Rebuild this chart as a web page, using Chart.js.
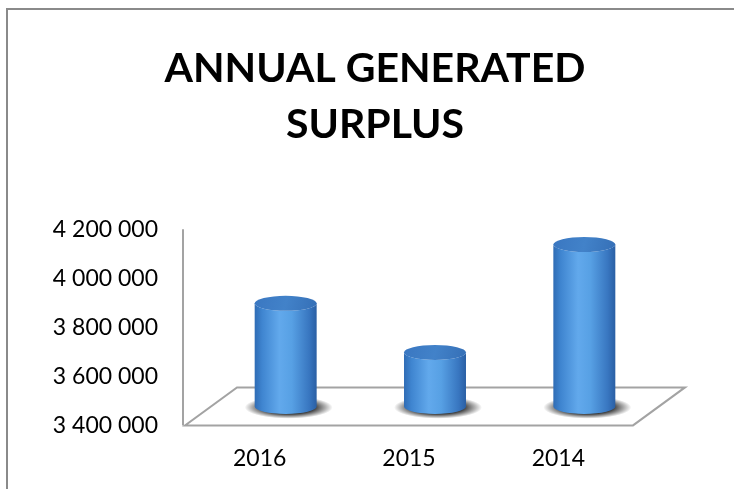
<!DOCTYPE html>
<html>
<head>
<meta charset="utf-8">
<script src="https://cdn.jsdelivr.net/npm/chart.js@4/dist/chart.umd.min.js"></script>
<style>
  html, body { margin: 0; padding: 0; background: #fff; width: 734px; height: 489px; overflow: hidden; }
  #frame { position: absolute; left: 6px; top: 8px; width: 760px; height: 500px;
           border-left: 2px solid #8a8a8a; border-top: 2px solid #8a8a8a; }
  #wrap { position: absolute; left: 0; top: 0; width: 734px; height: 479px; }
</style>
</head>
<body>
<div id="frame"><div id="wrap"><canvas id="c"></canvas></div></div>
<script>
// Annual generated surplus, by year
const years = ['2016', '2015', '2014'];
const surplus = [3820000, 3620000, 4060000];
const axisMin = 3400000;
const axisMax = 4200000;
const axisStep = 200000;

const FONT = 'Lato, "Open Sans", sans-serif';
// depth of the floor slab (back edge offset from the front edge)
const DEPTH_X = 52, DEPTH_Y = -38;

function spaced(v) {
  return String(v).replace(/\B(?=(\d{3})+(?!\d))/g, ' ');
}

function drawCylinder(ctx, cx, topY, baseY, rx, ry) {
  // soft dark shadow under the base
  ctx.save();
  const srx = rx * 1.42, sry = ry * 1.5;
  ctx.translate(cx + 3, baseY + 1);
  ctx.scale(1, sry / srx);
  const sg = ctx.createRadialGradient(0, 0, 0, 0, 0, srx);
  sg.addColorStop(0, 'rgba(0,0,0,0.9)');
  sg.addColorStop(0.6, 'rgba(0,0,0,0.75)');
  sg.addColorStop(1, 'rgba(0,0,0,0)');
  ctx.fillStyle = sg;
  ctx.beginPath();
  ctx.arc(0, 0, srx, 0, Math.PI * 2);
  ctx.fill();
  ctx.restore();

  // body
  const g = ctx.createLinearGradient(cx - rx, 0, cx + rx, 0);
  g.addColorStop(0, '#2f6cb5');
  g.addColorStop(0.12, '#3f85d0');
  g.addColorStop(0.4, '#62a9ec');
  g.addColorStop(0.6, '#57a0e4');
  g.addColorStop(0.88, '#3876c0');
  g.addColorStop(1, '#2a5fa4');
  ctx.fillStyle = g;
  ctx.beginPath();
  ctx.moveTo(cx - rx, topY);
  ctx.lineTo(cx - rx, baseY);
  ctx.ellipse(cx, baseY, rx, ry, 0, Math.PI, 0, true);
  ctx.lineTo(cx + rx, topY);
  ctx.ellipse(cx, topY, rx, ry, 0, 0, Math.PI, false);
  ctx.closePath();
  ctx.fill();

  // top cap
  const tg = ctx.createLinearGradient(cx - rx, topY - ry, cx + rx, topY + ry);
  tg.addColorStop(0, '#3a77c1');
  tg.addColorStop(0.5, '#4282c9');
  tg.addColorStop(1, '#356fb6');
  ctx.fillStyle = tg;
  ctx.beginPath();
  ctx.ellipse(cx, topY, rx, ry, 0, 0, Math.PI * 2);
  ctx.fill();
}

const scene3d = {
  id: 'scene3d',
  beforeDatasetsDraw(chart) {
    const { ctx, chartArea: a } = chart;
    ctx.save();
    ctx.strokeStyle = '#a3a3a3';
    ctx.lineWidth = 2;
    ctx.lineJoin = 'miter';
    // vertical value axis
    ctx.beginPath();
    ctx.moveTo(a.left - 2, a.top);
    ctx.lineTo(a.left - 2, a.bottom);
    ctx.stroke();
    // floor
    ctx.fillStyle = '#fff';
    ctx.beginPath();
    ctx.moveTo(a.left, a.bottom);
    ctx.lineTo(a.right, a.bottom);
    ctx.lineTo(a.right + DEPTH_X, a.bottom + DEPTH_Y);
    ctx.lineTo(a.left + DEPTH_X, a.bottom + DEPTH_Y);
    ctx.closePath();
    ctx.fill();
    ctx.stroke();
    ctx.restore();
  },
  afterDatasetsDraw(chart) {
    const { ctx } = chart;
    const meta = chart.getDatasetMeta(0);
    const yScale = chart.scales.y;
    const base = yScale.getPixelForValue(axisMin);
    ctx.save();
    meta.data.forEach(el => {
      const p = el.getProps(['x', 'y', 'width'], true);
      const rx = p.width / 2;
      const cx = p.x + DEPTH_X / 2;
      drawCylinder(ctx, cx, p.y + DEPTH_Y / 2, base + DEPTH_Y / 2, rx, 7.5);
    });
    ctx.restore();
  }
};

new Chart(document.getElementById('c'), {
  type: 'bar',
  data: {
    labels: years,
    datasets: [{
      data: surplus,
      backgroundColor: 'rgba(0,0,0,0)',
      borderWidth: 0,
      categoryPercentage: 1,
      barPercentage: 0.415
    }]
  },
  options: {
    responsive: true,
    maintainAspectRatio: false,
    animation: false,
    layout: { padding: { left: 0, right: 0, top: 0, bottom: -2 } },
    plugins: {
      legend: { display: false },
      tooltip: { enabled: false },
      title: {
        display: true,
        text: ['ANNUAL GENERATED', 'SURPLUS'],
        color: '#000',
        font: { family: FONT, size: 41, weight: 'bold', lineHeight: 1.38 },
        padding: { top: 30, bottom: 76 }
      }
    },
    scales: {
      x: {
        grid: { display: false, drawTicks: false },
        border: { display: false },
        ticks: { color: '#000', font: { family: FONT, size: 23 }, padding: 19 }
      },
      y: {
        min: axisMin,
        max: axisMax,
        grid: { display: false, drawTicks: false },
        border: { display: false },
        ticks: {
          stepSize: axisStep,
          color: '#000',
          font: { family: FONT, size: 23 },
          padding: 27,
          callback: v => spaced(v)
        },
        afterFit(scale) { scale.width = 177; }
      },
      // empty right-hand strip that leaves room for the receding floor
      side: {
        type: 'linear',
        position: 'right',
        grid: { display: false, drawTicks: false },
        border: { display: false },
        ticks: { display: false },
        afterFit(scale) { scale.width = 109; }
      }
    }
  },
  plugins: [scene3d]
});
</script>
</body>
</html>
